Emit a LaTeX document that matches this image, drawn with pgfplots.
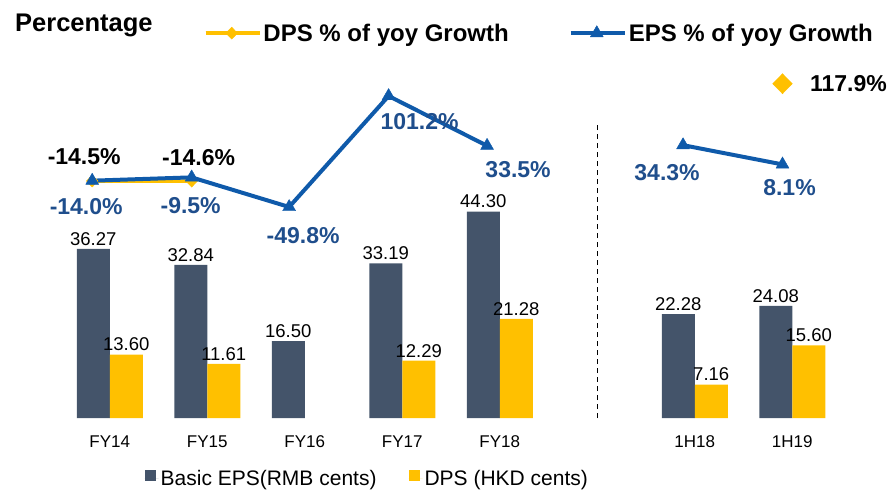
\documentclass[border=0pt]{standalone}
\usepackage{fontspec}
\setmainfont{Liberation Sans}
\usepackage{pgfplots}
\pgfplotsset{compat=1.18}
\definecolor{epsbar}{HTML}{44546A}
\definecolor{dpsbar}{HTML}{FFC000}
\definecolor{epsline}{HTML}{0F5AAA}
\definecolor{epslab}{HTML}{1F4E8C}
\newcommand{\lab}{\fontsize{23}{26}\selectfont\bfseries}
\begin{document}
\begin{tikzpicture}[x=1pt,y=1pt]
\useasboundingbox (0,0) rectangle (892,491);
\node[anchor=west, inner sep=0pt, font=\fontsize{25.5}{28}\selectfont\bfseries] at (15,466) {Percentage};

% bars: EPS and DPS in cents
\begin{axis}[
  at={(61pt,73pt)}, anchor=south west,
  width=780pt, height=358pt, scale only axis,
  xmin=-0.5, xmax=7.5, ymin=0, ymax=76.8,
  ybar=0pt, bar width=33pt,
  axis line style={draw=none}, tick style={draw=none},
  ytick=\empty,
  xtick={0,1,2,3,4,6,7},
  xticklabels={FY14,FY15,FY16,FY17,FY18,1H18,1H19},
  xticklabel style={font=\fontsize{17}{20}\selectfont, yshift=-10pt},
  nodes near coords={\pgfmathprintnumber[fixed,fixed zerofill,precision=2,assume math mode=true]{\pgfplotspointmeta}},
  every node near coord/.append style={font=\fontsize{18.5}{21}\selectfont, black},
  legend style={at={(rel axis cs:0.107,-0.170)}, anchor=west, draw=none, fill=none,
    legend columns=2, font=\fontsize{21}{24}\selectfont, inner sep=0pt,
    /tikz/every even column/.append style={column sep=30pt}},
  legend image code/.code={\fill[#1] (0pt,-2pt) rectangle (11pt,9pt); \path (0pt,0pt) -- (14pt,0pt);},
]
\addplot[fill=epsbar, draw=none] coordinates {(0,36.27) (1,32.84) (2,16.50) (3,33.19) (4,44.30) (6,22.28) (7,24.08)};
\addlegendentry{Basic EPS(RMB cents)}
\addplot[fill=dpsbar, draw=none] coordinates {(0,13.60) (1,11.61) (3,12.29) (4,21.28) (6,7.16) (7,15.60)};
\addlegendentry{DPS (HKD cents)}
\draw[black, line width=1.2pt, dash pattern=on 5pt off 4pt] (axis cs:5,0) -- (axis cs:5,63);
\end{axis}

% lines: yoy growth in percent
\begin{axis}[
  at={(61pt,73pt)}, anchor=south west,
  width=780pt, height=358pt, scale only axis,
  xmin=-0.5, xmax=7.5, ymin=-336.9, ymax=150.2,
  hide axis, clip=false, unbounded coords=jump,
  legend style={at={(rel axis cs:0.183,1.075)}, anchor=west, draw=none, fill=none,
    legend columns=2, font=\fontsize{24}{28}\selectfont\bfseries, inner sep=0pt,
    /tikz/every even column/.append style={column sep=58pt}},
  legend image code/.code={\draw[mark repeat=2,mark phase=2,#1] plot coordinates {(0pt,0pt)(26pt,0pt)(52pt,0pt)}; \path (0pt,0pt) -- (54pt,0pt);},
]
\addplot[dpsbar, line width=3.5pt, line join=round, mark=diamond*, mark size=6pt, mark options={line width=0.4pt, xscale=1.3}]
  coordinates {(-0.18,-14.5) (0.84,-14.6)};
\addlegendentry{DPS \% of yoy Growth}
\addplot[epsline, line width=4pt, line join=round, mark=triangle*, mark size=7.5pt, mark options={line width=0.4pt}]
  coordinates {(-0.18,-14.0) (0.84,-9.5) (1.84,-49.8) (2.86,101.2) (3.87,33.5) (4.9,nan) (5.88,34.3) (6.9,8.1)};
\addlegendentry{EPS \% of yoy Growth}
\addplot[forget plot, only marks, dpsbar, mark=diamond*, mark size=10pt, mark options={xscale=1.3}] coordinates {(6.9,117.9)};

\node[font=\lab, black] at (axis cs:-0.18,-14.5) [xshift=-8pt, yshift=24pt] {-14.5\%};
\node[font=\lab, epslab] at (axis cs:-0.18,-14.0) [xshift=-6pt, yshift=-26pt] {-14.0\%};
\node[font=\lab, black] at (axis cs:0.84,-14.6) [xshift=7pt, yshift=24pt] {-14.6\%};
\node[font=\lab, epslab] at (axis cs:0.84,-9.5) [xshift=-1pt, yshift=-28pt] {-9.5\%};
\node[font=\lab, epslab] at (axis cs:1.84,-49.8) [xshift=14pt, yshift=-29pt] {-49.8\%};
\node[font=\lab, epslab] at (axis cs:2.86,101.2) [xshift=31pt, yshift=-26pt] {101.2\%};
\node[font=\lab, epslab] at (axis cs:3.87,33.5) [xshift=31pt, yshift=-24pt] {33.5\%};
\node[font=\lab, epslab] at (axis cs:5.88,34.3) [xshift=-16pt, yshift=-27pt] {34.3\%};
\node[font=\lab, epslab] at (axis cs:6.9,8.1) [xshift=7pt, yshift=-23pt] {8.1\%};
\node[font=\lab, black, anchor=west] at (axis cs:6.9,117.9) [xshift=24pt] {117.9\%};
\end{axis}
\end{tikzpicture}
\end{document}
